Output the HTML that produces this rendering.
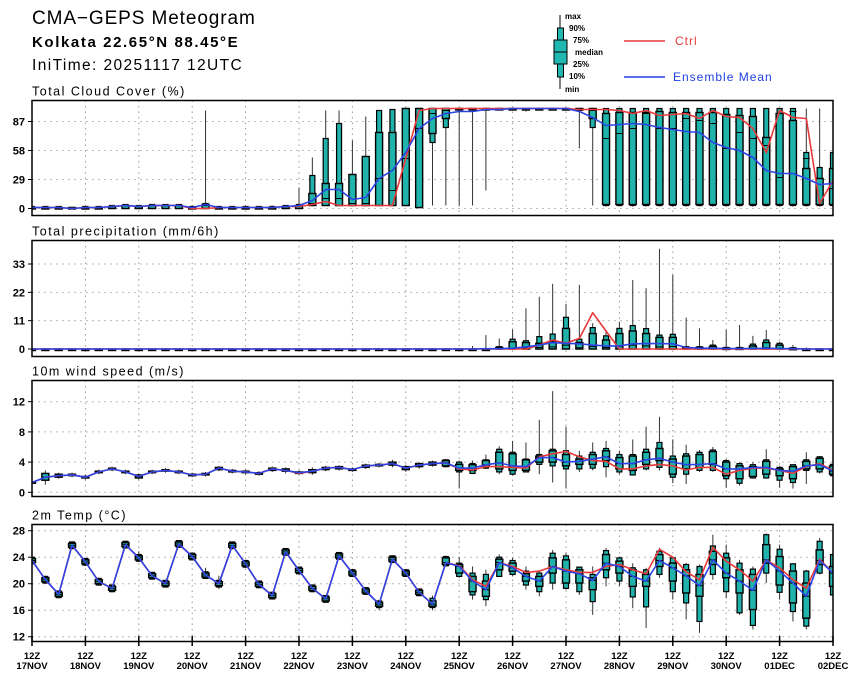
<!DOCTYPE html>
<html><head><meta charset="utf-8"><style>
html,body{margin:0;padding:0;background:#fff;}
svg{display:block;font-family:"Liberation Sans",sans-serif;}
</style></head><body>
<svg id="chart" width="860" height="679" viewBox="0 0 860 679" xmlns="http://www.w3.org/2000/svg">
<rect x="0" y="0" width="860" height="679" fill="#fff"/>
<g>
<text x="32" y="24" font-size="19" letter-spacing="0.9">CMA−GEPS Meteogram</text>
<text x="32" y="47" font-size="15" font-weight="bold" letter-spacing="1.6">Kolkata 22.65°N 88.45°E</text>
<text x="32" y="70" font-size="15.5" letter-spacing="1.4">IniTime: 20251117 12UTC</text>
</g>
<g>
<line x1="560" y1="15" x2="560" y2="89" stroke="#000" stroke-width="1"/>
<rect x="557.5" y="28" width="6" height="49" fill="#20b8b0" stroke="#000" stroke-width="1"/>
<rect x="554" y="40" width="13" height="24" fill="#20b8b0" stroke="#000" stroke-width="1"/>
<line x1="554" y1="52" x2="567" y2="52" stroke="#000"/>
<g font-size="8" font-weight="bold">
<text x="565" y="19">max</text><text x="569" y="31">90%</text><text x="573" y="43">75%</text>
<text x="575" y="55">median</text><text x="573" y="67">25%</text><text x="569" y="79">10%</text><text x="565" y="92">min</text>
</g>
</g>
<g>
<line x1="624" y1="41" x2="665" y2="41" stroke="#e8393b" stroke-width="1.5"/>
<text x="675" y="45" font-size="12" letter-spacing="1" fill="#e8393b">Ctrl</text>
<line x1="624" y1="77" x2="665" y2="77" stroke="#2040e0" stroke-width="1.5"/>
<text x="673" y="81" font-size="12" letter-spacing="1" fill="#2040e0">Ensemble Mean</text>
</g>
<g id="panels"></g>
</svg>
<script>
// ---- x axis ----
const dayLabels = ["17NOV","18NOV","19NOV","20NOV","21NOV","22NOV","23NOV","24NOV","25NOV","26NOV","27NOV","28NOV","29NOV","30NOV","01DEC","02DEC"];

// ---- Total cloud cover (%) ----
const cloudTicks = [0,29,58,87];
const cloudCtrl = [1,1,1,0,1,1,2,3,2,3,3,3,0,0,1,1,1,1,1,2,2, 4,7,3,3,3,3,3,50,98, 100,100,100,100,100,100,100,100,100,100,100, 99,99,99,98,95,98,93,94,95,90, 98,92,91,80,56,98,91,90,5,28];
const cloudMean = [1,1,1,0,1,1,2,3,2,3,3,3,1,4,1,1,1,1,1,2,3, 8,19,19,9,11,30,38,56,80,90, 95,97,97,99,99,100,100,100,100,100, 97,91,83,84,85,84,81,79,77,76, 66,61,58,51,38,35,35,30,24,25];
const cloudMin = [0,0,0,0,0,0,0,0,0,0,0,0,0,0,0,0,0,0,0,0,0, 3,3,3,3,3,3,3,3,1, 3,3,3,3,18, 98,98,97,98,98,98, 60,3, 2,2,2,2,2,2,2,2,2,2,2,2,2,2,2,2,2,2];
const cloudP10 = [0,0,0,0,0,0,0,0,0,0,0,0,0,0,0,0,0,0,0,0,0, 3,3,3,3,3,3,3,3,1, 66,81,99,99,99, 99,99,99,99,99,99, 98,81, 3,3,3,3,3,3,3,3,3,3,3,3,3,3,3,3,3,3];
const cloudP25 = [0,0,0,0,0,0,0,0,0,0,0,0,0,0,0,0,0,0,0,0,0, 3,3,3,3,3,3,3,3,1, 75,90,99,99,99, 99,99,99,99,99,99, 99,90, 4,4,4,4,4,4,4,4,4,4,4,4,4,4,4,4,4,4];
const cloudMed = [1,1,1,0,1,1,2,3,2,3,3,3,1,3,1,1,1,1,1,2,2, 5,10,10,5,5,30,18,50,80, 95,98,100,100,100,100,100,100,100,100,100,100,98, 70,75,80,95,80,80,90,88,85,60,76,70,63,31,97,50,30,20];
const cloudP75 = [1,1,1,1,1,1,2,3,2,3,3,3,1,4,1,1,1,1,1,2,3, 15,25,25,34,52,76,76,100,100, 100,100,100,100,100,100,100,100,100,100,100,100,100, 95,96,96,96,97,96,96,96,96, 94,93,92,71,95,88,40,30,40];
const cloudP90 = [2,2,2,1,2,2,3,4,3,4,4,4,2,5,2,2,2,2,2,3,4, 33,70,85,34,52,98,99,100,100, 100,100,100,100,100,100,100,100,100,100,100,100,100, 100,100,100,100,100,100,100,100,100,100,100,100,100,100,100,56,41,56];
const cloudMax = [2,2,2,1,2,2,3,4,3,4,4,4,3,98,2,2,2,2,3,3,21, 51,98,98,68,92,98,99,100,100, 100,100,100,100,100,100,100,100,100,100,100,100,100,100,100,100,100,100,100,100,100,100,100,100,100,100,100,100,100,100,100];

// ---- Total precipitation (mm/6h) ----
const precipTicks = [0,11,22,33];
const precipCtrl = [0,0,0,0,0,0,0,0,0,0,0,0,0,0,0,0,0,0,0,0,0,0,0,0,0,0,0,0,0,0,0,0,0,0,0,0,0,0, 1.5,3.5,2.2,4.1,14.1,7, 0,0,0,0,0,0,0,0,0,0,0,0,0,0,0,0,0];
const precipMean = [0,0,0,0,0,0,0,0,0,0,0,0,0,0,0,0,0,0,0,0,0,0,0,0,0,0,0,0,0,0,0,0,0,0,0.1,0.1, 0.3,0.8,1.5,2.5,2.2,2.0,1.5,1.2,1.2,2.0,2.1,2.1,2.0,0.6,0.3,0.3,0.2,0.2,0.2,0.3,0.2,0.1,0,0,0];
const precipMin = [0,0,0,0,0,0,0,0,0,0,0,0,0,0,0,0,0,0,0,0,0,0,0,0,0,0,0,0,0,0,0,0,0,0,0,0,0,0,0,0,0,0,0,0,0,0,0,0,0,0,0,0,0,0,0,0,0,0,0,0,0];
const precipP10 = [0,0,0,0,0,0,0,0,0,0,0,0,0,0,0,0,0,0,0,0,0,0,0,0,0,0,0,0,0,0,0,0,0,0,0,0,0,0,0,0,0,0,0,0,0,0,0,0,0,0,0,0,0,0,0,0,0,0,0,0,0];
const precipP25 = [0,0,0,0,0,0,0,0,0,0,0,0,0,0,0,0,0,0,0,0,0,0,0,0,0,0,0,0,0,0,0,0,0,0,0,0,0,0,0,0,0,0,0,0,0,0,0,0,0,0,0,0,0,0,0,0,0,0,0,0,0];
const precipMed = [0,0,0,0,0,0,0,0,0,0,0,0,0,0,0,0,0,0,0,0,0,0,0,0,0,0,0,0,0,0,0,0,0,0,0,0, 0.2,0.4,0.6,0.8,1.5,0.5,1.0,0.6,1.0,1.5,1.2,0.8,1.0,0.2,0.2,0.3,0.1,0.1,0.3,0.5,0.3,0.1,0,0,0];
const precipP75 = [0,0,0,0,0,0,0,0,0,0,0,0,0,0,0,0,0,0,0,0,0,0,0,0,0,0,0,0,0,0,0,0,0,0,0, 0.6,2.8,2.5,2.2,3.0,8,2.5,6,3.5,6,7,6,4.5,4.5,0.6,0.6,1.0,0.4,0.4,1.2,2.5,1.5,0.3,0,0,0];
const precipP90 = [0,0,0,0,0,0,0,0,0,0,0,0,0,0,0,0,0,0,0,0,0,0,0,0,0,0,0,0,0,0,0,0,0,0,0, 0.9,3.8,3.2,4.8,5.8,12.3,3.8,8.3,5.1,8.0,9.1,7.9,5.4,5.7,0.9,0.9,1.5,0.6,0.6,1.9,3.5,2.2,0.5,0,0,0];
const precipMax = [0,0,0,0,0,0,0,0,0,0,0,0,0,0,0,0,0,0,0,0,0,0,0,0,0,0,0,0,0,0,0,0,0,1.2,5.4, 4.1,7.6,15.8,20.3,25.3,17.5,24.9,10,7,10.6,26.8,23.6,38.9,28.8,12.2,8.0,3.5,7.4,9.3,5.1,7.4,2.8,1.6,0.6,0,0];

// ---- 10m wind speed (m/s) ----
const windTicks = [0,4,8,12];
const windCtrl = [1.3,2.0,2.2,2.3,2.0,2.7,3.1,2.7,2.1,2.7,2.9,2.7,2.3,2.4,3.2,2.8,2.7,2.5,3.1,2.9,2.5,2.8,3.2,3.3,3.0,3.5,3.6,3.8,3.2,3.6,3.8, 3.9,3.1,2.96,3.4,3.4,3.3,3.2,4.7,5.1,5.4,4.7,4.2,4.1,3.1,3.1,3.5,3.7,3.5,2.96,3.3,3.3,2.4,2.9,3.2,3.2,2.9,2.5,3.4,3.8,2.9];
const windMean = [1.3,2.0,2.2,2.3,2.0,2.7,3.1,2.7,2.1,2.7,2.9,2.7,2.3,2.4,3.2,2.8,2.7,2.5,3.1,2.9,2.6,2.8,3.2,3.3,3.0,3.5,3.6,3.8,3.2,3.6,3.8, 3.9,3.2,3.2,3.65,3.9,3.5,3.4,4.6,4.6,4.0,4.1,4.4,4.7,3.8,3.8,4.3,4.5,4.0,3.65,3.7,3.8,3.1,3.1,3.3,3.3,2.9,2.8,3.5,3.65,2.8];
const windMin = [1.1,1.0,1.8,2.0,1.7,2.4,2.8,2.4,1.7,2.4,2.6,2.4,2.0,2.1,2.8,2.5,2.4,2.2,2.7,2.5,2.3,2.3,2.8,2.9,2.7,3.1,3.3,3.3,2.7,3.1,3.4, 3.3,0.5,2.4,3.1,2.4,2.2,2.7,2.4,1.3,0.5,2.7,2.9,2.0,2.4,2.2,2.9,2.9,1.2,1.1,2.7,2.7,0.6,0.9,1.8,1.8,0.6,0.5,1.1,2.5,2.2];
const windP10 = [null,null,null,null,null,null,null,null,null,null,null,null,null,null,null,null,null,null,null,null,null,null,null,null,null,null,null,null,null,null,null, 3.4,2.7,2.5,3.2,2.7,2.4,2.7,3.7,3.5,3.1,3.1,3.2,3.4,2.7,2.3,3.1,3.3,2.0,2.4,2.9,2.9,1.8,1.2,1.9,1.9,1.6,1.3,2.9,2.7,2.2];
const windP25 = [1.2,1.6,2.0,2.2,1.9,2.6,3.0,2.6,1.9,2.6,2.8,2.6,2.2,2.3,3.0,2.7,2.6,2.4,2.9,2.8,2.5,2.6,3.0,3.1,2.9,3.3,3.5,3.6,3.0,3.4,3.6, 3.5,2.9,2.9,3.4,3.1,2.9,2.9,4.0,4.0,3.5,3.7,3.7,4.2,3.1,2.9,3.7,4.2,2.4,3.1,3.3,3.7,2.2,1.8,2.1,2.4,2.2,1.8,3.1,3.1,2.4];
const windP75 = [1.4,2.5,2.4,2.4,2.1,2.8,3.2,2.8,2.3,2.8,3.0,2.8,2.4,2.5,3.3,2.9,2.8,2.6,3.2,3.1,2.7,3.0,3.3,3.4,3.1,3.6,3.7,4.0,3.4,3.8,4.0, 4.2,3.7,3.65,4.2,5.3,5.1,4.3,4.8,5.5,5.0,4.4,5.0,5.5,4.6,4.8,5.3,5.8,4.4,4.8,5.0,5.4,4.0,3.5,3.4,4.1,3.1,3.4,4.1,4.5,3.5];
const windP90 = [null,null,null,null,null,null,null,null,null,null,null,null,null,null,null,null,null,null,null,null,null,null,null,null,null,null,null,null,null,null,null, 4.3,4.0,3.8,4.3,5.7,5.3,4.4,5.0,5.7,5.5,4.8,5.3,5.8,5.0,5.0,5.7,6.6,4.8,5.1,5.3,5.6,4.2,3.8,3.65,4.3,3.3,3.65,4.3,4.7,3.7];
const windMax = [1.5,2.9,2.6,2.6,2.3,3.0,3.4,3.0,2.5,3.0,3.2,3.0,2.6,2.7,3.5,3.1,3.0,2.8,3.4,3.3,2.9,3.3,3.5,3.6,3.3,3.8,3.9,4.3,3.6,4.0,4.2, 4.4,4.2,4.2,5.0,6.1,6.8,6.6,9.6,13.4,8.7,5.5,6.6,6.8,5.5,7.0,8.7,10.0,7.0,6.3,5.6,6.0,4.4,4.0,4.0,5.7,3.5,3.7,5.3,4.8,4.0];

// ---- 2m temperature (°C) ----
const tempTicks = [12,16,20,24,28];
const tempCtrl = [23.5,20.6,18.4,25.8,23.3,20.3,19.3,25.9,23.9,21.2,20.0,26.0,24.1,21.3,20.0,25.8,23.0,19.9,18.2,24.8,22.0,19.3,17.7,24.2,21.6,18.9,16.9,23.7,21.6,18.7,16.9, 23.2,22.7,20.6,19.6,23.2,22.6,21.7,21.9,22.6,22.1,21.7,21.7,22.6,22.9,22.1,21.5,25.2,24.0,21.8,20.6,25.5,23.4,22.1,20.4,23.6,22.4,20.6,19.3,23.7,21.6];
const tempMean = [23.5,20.6,18.4,25.8,23.3,20.3,19.3,25.9,23.9,21.2,20.0,26.0,24.1,21.3,20.0,25.8,23.0,19.9,18.2,24.8,22.0,19.3,17.7,24.2,21.6,18.9,16.9,23.7,21.6,18.7,16.9, 23.2,22.6,20.4,19.1,23.2,22.4,21.1,20.4,22.6,21.9,21.5,20.5,23.1,22.6,21.1,20.4,23.5,22.4,21.2,19.7,23.6,21.6,20.4,19.0,23.6,21.9,20.1,18.1,23.5,21.6];
const tempMin = [22.9,20.0,17.8,25.2,22.7,19.7,18.7,25.3,23.3,20.6,19.4,25.4,23.5,20.7,19.2,25.2,22.4,19.3,17.6,24.2,21.4,18.7,17.1,23.6,21.0,18.3,16.0,23.1,21.0,18.1,16.0, 22.6,20.9,17.6,16.6,21.1,21.1,19.1,18.1,19.1,19.1,18.3,15.3,19.6,19.6,16.3,13.3,20.9,17.6,14.6,12.6,20.6,17.8,15.3,13.1,20.1,17.6,14.3,13.1,21.4,18.3];
const tempP10 = [23.0,20.1,17.9,25.3,22.8,19.8,18.8,25.4,23.4,20.7,19.5,25.5,23.6,20.8,19.5,25.3,22.5,19.4,17.7,24.3,21.5,18.8,17.2,23.7,21.1,18.4,16.4,23.2,21.1,18.2,16.4, 22.7,21.1,18.3,17.6,21.1,21.4,19.8,18.8,20.1,19.3,18.8,17.3,20.9,20.4,18.0,16.5,21.4,18.8,17.1,14.3,21.4,18.8,15.6,13.7,21.6,18.7,15.8,13.6,21.6,18.3];
const tempP25 = [23.2,20.3,18.1,25.5,23.0,20.0,19.0,25.6,23.6,20.9,19.7,25.7,23.8,21.0,19.7,25.5,22.7,19.6,17.9,24.5,21.7,19.0,17.4,23.9,21.3,18.6,16.6,23.4,21.3,18.4,16.6, 22.9,21.6,18.8,18.1,22.1,21.9,20.4,19.6,21.6,20.1,20.1,19.1,22.1,21.6,19.6,19.6,22.6,20.4,18.6,18.1,22.9,20.9,18.6,16.1,23.1,19.8,17.1,14.8,22.9,19.6];
const tempP75 = [23.8,20.9,18.7,26.1,23.6,20.6,19.6,26.2,24.2,21.5,20.3,26.3,24.4,21.6,20.3,26.1,23.3,20.2,18.5,25.1,22.3,19.6,18.0,24.5,21.9,19.2,17.2,24.0,21.9,19.0,17.4, 23.9,22.9,21.1,20.4,23.7,23.1,21.5,21.1,23.9,23.6,22.1,20.9,24.4,23.4,22.1,21.4,24.4,23.1,22.1,21.4,24.9,23.9,22.1,21.4,25.9,24.1,21.9,20.1,25.1,22.6];
const tempP90 = [24.0,21.1,18.9,26.3,23.8,20.8,19.8,26.4,24.4,21.7,20.5,26.5,24.6,21.8,20.5,26.3,23.5,20.4,18.7,25.3,22.5,19.8,18.2,24.7,22.1,19.4,17.4,24.2,22.1,19.2,17.8, 24.1,23.1,21.6,21.4,24.0,23.5,21.9,21.6,24.6,24.2,22.5,21.4,25.0,23.9,22.4,22.1,24.9,23.9,22.9,22.6,25.7,24.6,23.1,22.2,27.4,25.2,23.0,21.9,26.4,24.4];
const tempMax = [24.1,21.2,19.0,26.4,23.9,20.9,19.9,26.5,24.9,21.8,20.6,26.6,24.7,22.4,21.2,26.4,23.6,20.5,18.8,25.4,22.6,19.9,18.3,24.8,22.2,19.5,17.5,24.3,22.2,19.3,18.2, 24.2,24.0,22.6,22.1,24.4,23.9,22.6,21.9,25.1,24.6,22.6,22.6,25.4,24.1,23.1,22.4,25.4,24.1,23.1,22.9,27.4,25.9,23.6,22.6,27.6,25.9,23.1,22.1,26.9,24.6];

const NS = "http://www.w3.org/2000/svg";
const root = document.getElementById("panels");
const X0 = 32, X1 = 833, N = 60;
function xPos(i){ return X0 + i*(X1-X0)/N; }
function mk(tag, attrs, parent){
  const e = document.createElementNS(NS, tag);
  for (const k in attrs) e.setAttribute(k, attrs[k]);
  (parent||root).appendChild(e);
  return e;
}
function makeScale(v0, y0, v1, y1){ return v => y0 + (v - v0)*(y1 - y0)/(v1 - v0); }

function drawPanel(cfg){
  const g = mk("g", {});
  
  
  const y = cfg.scale;
  const t = mk("text", {x: X0, y: cfg.top - 5, "font-size": 12.5, "letter-spacing": 1.5}, g);
  t.textContent = cfg.title;
  
  
  const clipId = cfg.name + "-clip";
  const cp = mk("clipPath", {id: clipId}, g);
  mk("rect", {x: X0, y: cfg.top, width: X1-X0, height: cfg.bottom-cfg.top}, cp);
  for (let d = 1; d < dayLabels.length-1; d++){
    const gl = mk("line", {x1: xPos(d*4), x2: xPos(d*4), y1: cfg.top, y2: cfg.bottom, stroke: "#999", "stroke-width": 1, "stroke-dasharray": "1.5,4"}, g);
    
    
  }
  cfg.ticks.forEach(v => {
    const yy = y(v);
    const hl = mk("line", {x1: X0, x2: X1, y1: yy, y2: yy, stroke: "#bbb", "stroke-width": 1, "stroke-dasharray": "2,4"}, g);
    
    
    mk("line", {x1: X0-4, x2: X0, y1: yy, y2: yy, stroke: "#000", "stroke-width": 1}, g);
    const lab = mk("text", {x: X0-7, y: yy+4, "font-size": 11, "font-weight": "bold", "text-anchor": "end"}, g);
    lab.textContent = v;
    
    
  });
  const plot = mk("g", {"clip-path": "url(#" + clipId + ")"}, g);
  for (let i = 0; i <= N; i++){
    const x = xPos(i);
    const box = mk("g", {}, plot);
    
    
    mk("line", {x1: x, x2: x, y1: y(cfg.max[i]), y2: y(cfg.min[i]), stroke: "#333", "stroke-width": 1}, box);
    if (cfg.p90[i] !== null && cfg.p10[i] !== null){
      const a = y(cfg.p90[i]), b = y(cfg.p10[i]);
      mk("rect", {x: x-2.5, y: a, width: 5, height: Math.max(b-a, 1), fill: "#1fb3ab", stroke: "#000", "stroke-width": 1.2}, box);
    }
    const a2 = y(cfg.p75[i]), b2 = y(cfg.p25[i]);
    mk("rect", {x: x-3.5, y: a2, width: 7, height: Math.max(b2-a2, 1.5), fill: "#1fb3ab", stroke: "#000", "stroke-width": 1.4}, box);
    mk("line", {x1: x-3.5, x2: x+3.5, y1: y(cfg.med[i]), y2: y(cfg.med[i]), stroke: "#000", "stroke-width": 1}, box);
  }
  const line = (arr, color, nm) => {
    const p = mk("polyline", {points: arr.map((v,i) => xPos(i).toFixed(1) + "," + y(v).toFixed(1)).join(" "), fill: "none", stroke: color, "stroke-width": 1.6, "stroke-linejoin": "round"}, plot);
    
    
  };
  line(cfg.ctrl, "#e8393b", cfg.name + '-ctrl-line');
  line(cfg.mean, "#2a44e6", cfg.name + '-mean-line');
  const fr = mk("rect", {x: X0, y: cfg.top, width: X1-X0, height: cfg.bottom-cfg.top, fill: "none", stroke: "#000", "stroke-width": 1.5}, g);
  
  
}

drawPanel({name: "cloud-panel", title: "Total Cloud Cover (%)", top: 100.5, bottom: 215.5, ticks: cloudTicks,
  scale: makeScale(0, 208.5, 87, 121.5), ctrl: cloudCtrl, mean: cloudMean, min: cloudMin, p10: cloudP10, p25: cloudP25, med: cloudMed, p75: cloudP75, p90: cloudP90, max: cloudMax});
drawPanel({name: "precip-panel", title: "Total precipitation (mm/6h)", top: 240.5, bottom: 356.5, ticks: precipTicks,
  scale: makeScale(0, 349, 33, 264), ctrl: precipCtrl, mean: precipMean, min: precipMin, p10: precipP10, p25: precipP25, med: precipMed, p75: precipP75, p90: precipP90, max: precipMax});
drawPanel({name: "wind-panel", title: "10m wind speed (m/s)", top: 380.5, bottom: 496.5, ticks: windTicks,
  scale: makeScale(0, 492.3, 12, 401.7), ctrl: windCtrl, mean: windMean, min: windMin, p10: windP10, p25: windP25, med: windMean, p75: windP75, p90: windP90, max: windMax});
drawPanel({name: "temp-panel", title: "2m Temp (°C)", top: 524.5, bottom: 641.5, ticks: tempTicks,
  scale: makeScale(12, 636.7, 28, 530.7), ctrl: tempCtrl, mean: tempMean, min: tempMin, p10: tempP10, p25: tempP25, med: tempMean, p75: tempP75, p90: tempP90, max: tempMax});

const xa = mk("g", {});


dayLabels.forEach((d, k) => {
  const x = xPos(k*4);
  mk("line", {x1: x, x2: x, y1: 636, y2: 646, stroke: "#000", "stroke-width": 1.5}, xa);
  const t1 = mk("text", {x: x, y: 659, "font-size": 9.5, "font-weight": "bold", "text-anchor": "middle"}, xa);
  t1.textContent = "12Z";
  
  
  const t2 = mk("text", {x: x, y: 669, "font-size": 9.5, "font-weight": "bold", "text-anchor": "middle"}, xa);
  t2.textContent = d;
  
  
});
</script>
</body></html>
